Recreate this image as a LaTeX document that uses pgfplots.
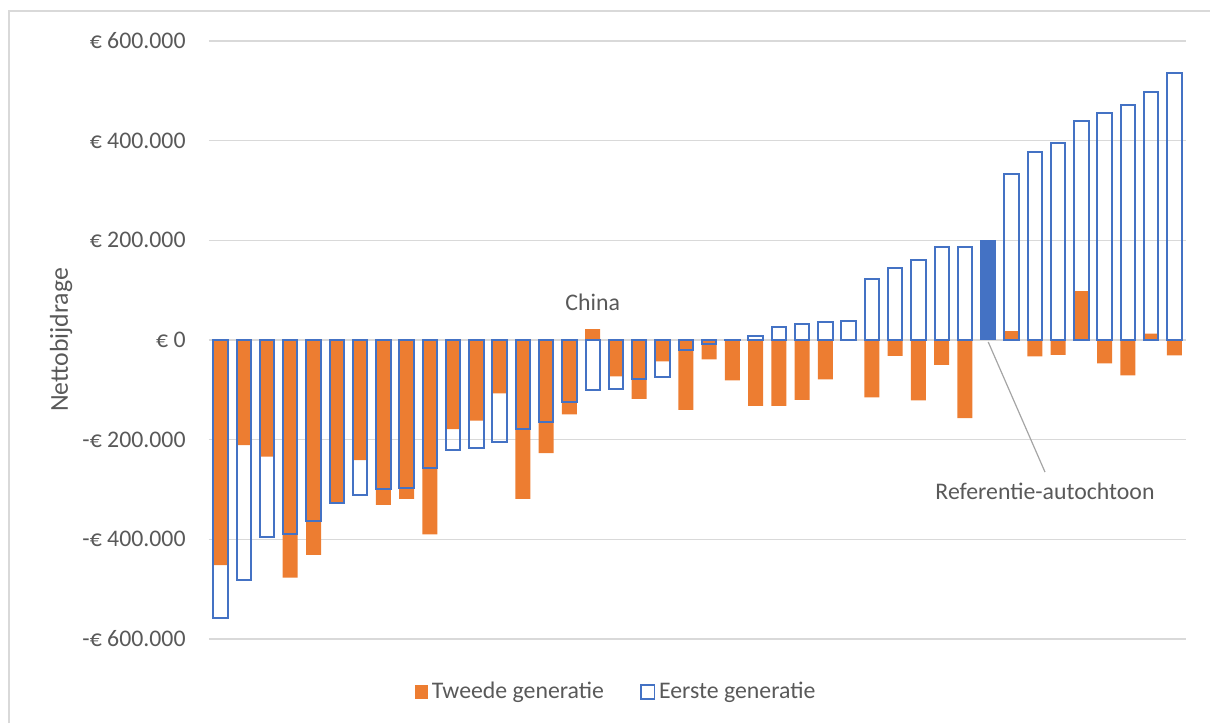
\documentclass[border=0pt]{standalone}
\usepackage{pgfplots}
\pgfplotsset{compat=1.18}
\usepackage{fontspec}
\setmainfont{Carlito}
\definecolor{orng}{HTML}{ED7D31}
\definecolor{blu}{HTML}{4472C4}
\definecolor{txt}{HTML}{595959}
\definecolor{grd}{HTML}{D9D9D9}
\definecolor{lead}{HTML}{A5A5A5}
\newcommand{\tfont}{\fontsize{11.9}{14}\selectfont}
\begin{document}
\begin{tikzpicture}[x=0.5pt,y=0.5pt]
\path[use as bounding box] (0,0) rectangle (1210,723);
\draw[grd, line width=0.6pt] (9,0) -- (9,712) -- (1210,712);
\begin{axis}[
  at={(104.4pt,42pt)}, anchor=south west,
  scale only axis, width=488.6pt, height=299pt,
  xmin=-0.5, xmax=41.5, ymin=-600000, ymax=600000,
  axis line style={draw=none},
  xtick=\empty,
  ytick={-600000,-400000,-200000,0,200000,400000,600000},
  yticklabels={-€ 600.000,-€ 400.000,-€ 200.000,€ 0,€ 200.000,€ 400.000,€ 600.000},
  scaled y ticks=false,
  ymajorgrids, grid style={grd, line width=0.7pt},
  major tick length=0pt,
  yticklabel style={font=\tfont, text=txt, anchor=east, inner xsep=0pt, xshift=-11.4pt},
  ylabel={Nettobijdrage},
  every axis y label/.style={at={(axis description cs:-0.1512,0.5)}, rotate=90, anchor=center,
    font=\fontsize{12.9}{15}\selectfont, text=txt},
  legend style={draw=none, fill=none, at={(0.4177,-0.0886)}, anchor=center,
    font=\tfont, text=txt, inner sep=0pt,
    /tikz/every even column/.append style={column sep=16pt}},
  legend columns=2,
  legend cell align=left,
  clip=false,
]
% Tweede generatie
\addplot[ybar, bar width=7.5pt, bar shift=0pt, fill=orng, draw=none,
  legend image code/.code={\fill[orng] (0pt,-3.3pt) rectangle (6.6pt,3.3pt);}]
coordinates {
(0,-452000) (1,-211000) (2,-234000) (3,-477000) (4,-431000) (5,-326000)
(6,-241000) (7,-331000) (8,-319000) (9,-390000) (10,-179000) (11,-162000)
(12,-107000) (13,-319000) (14,-227000) (15,-149000) (16,22000) (17,-73000)
(18,-118000) (19,-43000) (20,-140000) (21,-39000) (22,-81000) (23,-132000)
(24,-132000) (25,-120000) (26,-79000) (28,-115000) (29,-32000)
(30,-121000) (31,-50000) (32,-157000) (34,18000) (35,-33000)
(36,-30000) (37,98000) (38,-47000) (39,-71000) (40,13000) (41,-31000)
};
\addlegendentry{Tweede generatie}
% Eerste generatie
\addplot[ybar, bar width=7.2pt, bar shift=0pt, fill=none, draw=blu, line width=1pt,
  legend image code/.code={\draw[blu, line width=0.8pt, fill=white] (0pt,-3.4pt) rectangle (6.8pt,3.4pt);}]
coordinates {
(0,-558000) (1,-481000) (2,-395000) (3,-390000) (4,-364000) (5,-327000)
(6,-311000) (7,-299000) (8,-297000) (9,-257000) (10,-221000) (11,-217000)
(12,-204000) (13,-179000) (14,-165000) (15,-125000) (16,-100000) (17,-98000)
(18,-79000) (19,-75000) (20,-21000) (21,-9000) (22,1000) (23,8000)
(24,26000) (25,33000) (26,37000) (27,39000) (28,123000) (29,145000)
(30,160000) (31,186000) (32,187000) (34,333000) (35,377000)
(36,395000) (37,439000) (38,456000) (39,472000) (40,498000) (41,535000)
};
\addlegendentry{Eerste generatie}
% Referentie-autochtoon
\addplot[ybar, bar width=8pt, bar shift=0pt, fill=blu, draw=none, forget plot]
coordinates {(33,200000)};
\node[font=\tfont, text=txt] at (axis cs:16,76000) {China};
\draw[lead, line width=0.6pt] (axis cs:33,-4000) -- (axis cs:35.44,-265000);
\node[font=\tfont, text=txt] at (axis cs:35.44,-303000) {Referentie-autochtoon};
\end{axis}
\end{tikzpicture}
\end{document}
